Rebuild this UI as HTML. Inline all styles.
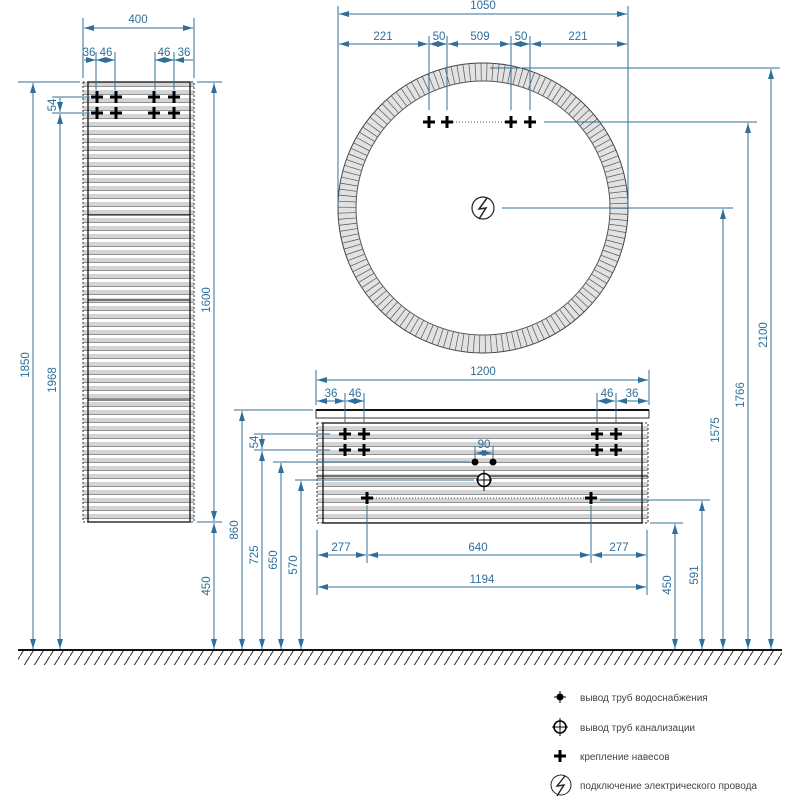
<!DOCTYPE html>
<html><head><meta charset="utf-8"><style>
html,body{margin:0;padding:0;background:#fff}
svg{display:block}
.d{stroke:#2f6f9a;stroke-width:1;fill:none}
.t{fill:#2f6f9a;font-family:"Liberation Sans",sans-serif;font-size:11.5px}
.l{fill:#444;font-family:"Liberation Sans","Noto Sans CJK SC",sans-serif;font-size:10px}
</style></head><body>
<svg width="800" height="800" viewBox="0 0 800 800" xmlns="http://www.w3.org/2000/svg">
<defs>
<marker id="a" viewBox="0 0 10 6" refX="10" refY="3" markerWidth="10" markerHeight="6" orient="auto-start-reverse" markerUnits="userSpaceOnUse"><path d="M0,0L10,3L0,6z" fill="#2f6f9a"/></marker>
<pattern id="st" width="8" height="8" patternUnits="userSpaceOnUse"><rect width="8" height="8" fill="#fff"/><rect y="2" width="8" height="4" fill="#d4d4d4"/><rect y="6" width="8" height="0.8" fill="#777"/></pattern>
<pattern id="hat" width="10" height="16" patternUnits="userSpaceOnUse"><path d="M10,0L0,16" stroke="#333" stroke-width="1"/></pattern>
<g id="x"><path d="M-6,0H6M0,-6V6" stroke="#000" stroke-width="3"/></g>
</defs>

<!-- floor -->
<line x1="18" y1="650" x2="782" y2="650" stroke="#111" stroke-width="2"/>
<rect x="18" y="651" width="764" height="14" fill="url(#hat)"/>

<!-- tall cabinet -->
<rect x="83" y="82" width="111" height="440" fill="url(#st)"/>
<rect x="83" y="82" width="111" height="440" fill="none" stroke="#333" stroke-dasharray="2,2"/>
<rect x="88" y="82" width="102" height="440" fill="none" stroke="#111" stroke-width="1.3"/>
<line x1="88" y1="215" x2="190" y2="215" stroke="#111"/><line x1="88" y1="300" x2="190" y2="300" stroke="#111"/><line x1="88" y1="400" x2="190" y2="400" stroke="#111"/>
<use href="#x" x="97" y="97"/><use href="#x" x="116" y="97"/><use href="#x" x="154" y="97"/><use href="#x" x="174" y="97"/>
<use href="#x" x="97" y="113"/><use href="#x" x="116" y="113"/><use href="#x" x="154" y="113"/><use href="#x" x="174" y="113"/>
<g class="d">
<line x1="83" y1="18" x2="83" y2="78"/><line x1="194" y1="18" x2="194" y2="78"/>
<line x1="84" y1="28" x2="193" y2="28" marker-start="url(#a)" marker-end="url(#a)"/>
<line x1="96" y1="52" x2="96" y2="90"/><line x1="115" y1="52" x2="115" y2="90"/><line x1="155" y1="52" x2="155" y2="90"/><line x1="174" y1="52" x2="174" y2="90"/>
<line x1="84" y1="60" x2="96" y2="60" marker-end="url(#a)"/><line x1="96" y1="60" x2="115" y2="60" marker-start="url(#a)" marker-end="url(#a)"/>
<line x1="155" y1="60" x2="174" y2="60" marker-start="url(#a)" marker-end="url(#a)"/><line x1="174" y1="60" x2="193" y2="60" marker-start="url(#a)"/>
<line x1="18" y1="82" x2="80" y2="82"/><line x1="197" y1="82" x2="222" y2="82"/>
<line x1="33" y1="83" x2="33" y2="649" marker-start="url(#a)" marker-end="url(#a)"/>
<line x1="52" y1="97" x2="90" y2="97"/><line x1="52" y1="113" x2="90" y2="113"/>
<line x1="60" y1="98" x2="60" y2="112" marker-end="url(#a)"/>
<line x1="60" y1="114" x2="60" y2="649" marker-start="url(#a)" marker-end="url(#a)"/>
<line x1="197" y1="522" x2="222" y2="522"/>
<line x1="214" y1="83" x2="214" y2="521" marker-start="url(#a)" marker-end="url(#a)"/>
<line x1="214" y1="523" x2="214" y2="649" marker-start="url(#a)" marker-end="url(#a)"/>
</g>
<text class="t" x="138" y="23" text-anchor="middle">400</text>
<text class="t" x="89" y="56" text-anchor="middle">36</text><text class="t" x="106" y="56" text-anchor="middle">46</text>
<text class="t" x="164" y="56" text-anchor="middle">46</text><text class="t" x="184" y="56" text-anchor="middle">36</text>
<text class="t" transform="translate(29,365) rotate(-90)" text-anchor="middle">1850</text>
<text class="t" transform="translate(56,380) rotate(-90)" text-anchor="middle">1968</text>
<text class="t" transform="translate(56,105) rotate(-90)" text-anchor="middle">54</text>
<text class="t" transform="translate(210,300) rotate(-90)" text-anchor="middle">1600</text>
<text class="t" transform="translate(210,586) rotate(-90)" text-anchor="middle">450</text>

<!-- mirror -->
<circle cx="483" cy="208" r="136" fill="none" stroke="#e2e2e2" stroke-width="18"/>
<circle cx="483" cy="208" r="136" fill="none" stroke="#555" stroke-width="17" stroke-dasharray="0.7,5"/>
<circle cx="483" cy="208" r="145" fill="none" stroke="#444" stroke-width="1"/>
<circle cx="483" cy="208" r="127" fill="none" stroke="#555" stroke-width="1"/>
<line x1="447" y1="122" x2="511" y2="122" stroke="#555" stroke-dasharray="1,2"/>
<use href="#x" x="429" y="122"/><use href="#x" x="447" y="122"/><use href="#x" x="511" y="122"/><use href="#x" x="530" y="122"/>
<circle cx="483" cy="208" r="11" fill="#fff" stroke="#222" stroke-width="1.2"/>
<path d="M487,198L479,209L486,208L479,219" stroke="#222" stroke-width="1.5" fill="none"/>
<g class="d">
<line x1="338" y1="6" x2="338" y2="205"/><line x1="628" y1="6" x2="628" y2="205"/>
<line x1="339" y1="14" x2="627" y2="14" marker-start="url(#a)" marker-end="url(#a)"/>
<line x1="429" y1="36" x2="429" y2="110"/><line x1="447" y1="36" x2="447" y2="110"/><line x1="511" y1="36" x2="511" y2="110"/><line x1="530" y1="36" x2="530" y2="110"/>
<line x1="339" y1="44" x2="428" y2="44" marker-start="url(#a)" marker-end="url(#a)"/>
<line x1="429" y1="44" x2="447" y2="44" marker-start="url(#a)" marker-end="url(#a)"/>
<line x1="448" y1="44" x2="510" y2="44" marker-start="url(#a)" marker-end="url(#a)"/>
<line x1="511" y1="44" x2="530" y2="44" marker-start="url(#a)" marker-end="url(#a)"/>
<line x1="531" y1="44" x2="627" y2="44" marker-start="url(#a)" marker-end="url(#a)"/>
<line x1="490" y1="68" x2="780" y2="68"/><line x1="544" y1="122" x2="757" y2="122"/><line x1="502" y1="208" x2="733" y2="208"/>
<line x1="771" y1="69" x2="771" y2="649" marker-start="url(#a)" marker-end="url(#a)"/>
<line x1="748" y1="123" x2="748" y2="649" marker-start="url(#a)" marker-end="url(#a)"/>
<line x1="723" y1="209" x2="723" y2="649" marker-start="url(#a)" marker-end="url(#a)"/>
</g>
<text class="t" x="483" y="9" text-anchor="middle">1050</text>
<text class="t" x="383" y="40" text-anchor="middle">221</text><text class="t" x="439" y="40" text-anchor="middle">50</text>
<text class="t" x="480" y="40" text-anchor="middle">509</text><text class="t" x="521" y="40" text-anchor="middle">50</text>
<text class="t" x="578" y="40" text-anchor="middle">221</text>
<text class="t" transform="translate(767,335) rotate(-90)" text-anchor="middle">2100</text>
<text class="t" transform="translate(744,395) rotate(-90)" text-anchor="middle">1766</text>
<text class="t" transform="translate(719,430) rotate(-90)" text-anchor="middle">1575</text>

<!-- vanity -->
<rect x="316" y="410" width="333" height="8" fill="#fff" stroke="#333" stroke-width="1"/>
<line x1="316" y1="410" x2="649" y2="410" stroke="#111" stroke-width="2"/>
<rect x="317" y="423" width="331" height="100" fill="url(#st)"/>
<rect x="317" y="423" width="331" height="100" fill="none" stroke="#333" stroke-dasharray="2,2"/>
<rect x="323" y="423" width="319" height="100" fill="none" stroke="#111" stroke-width="1.3"/>
<line x1="317" y1="476" x2="648" y2="476" stroke="#111"/>
<use href="#x" x="345" y="434"/><use href="#x" x="364" y="434"/><use href="#x" x="597" y="434"/><use href="#x" x="616" y="434"/>
<use href="#x" x="345" y="450"/><use href="#x" x="364" y="450"/><use href="#x" x="597" y="450"/><use href="#x" x="616" y="450"/>
<circle cx="475" cy="462" r="3.5" fill="#000"/><circle cx="493" cy="462" r="3.5" fill="#000"/>
<circle cx="484" cy="480" r="6.5" fill="#fff" stroke="#000" stroke-width="1.6"/>
<path d="M476,480H492M484,470V491" stroke="#000"/>
<line x1="370" y1="498" x2="588" y2="498" stroke="#555" stroke-dasharray="1,2"/>
<use href="#x" x="367" y="498"/><use href="#x" x="591" y="498"/>
<g class="d">
<line x1="316" y1="370" x2="316" y2="405"/><line x1="649" y1="370" x2="649" y2="405"/>
<line x1="317" y1="380" x2="648" y2="380" marker-start="url(#a)" marker-end="url(#a)"/>
<line x1="345" y1="393" x2="345" y2="422"/><line x1="364" y1="393" x2="364" y2="422"/><line x1="597" y1="393" x2="597" y2="422"/><line x1="616" y1="393" x2="616" y2="422"/>
<line x1="317" y1="401" x2="345" y2="401" marker-start="url(#a)" marker-end="url(#a)"/>
<line x1="346" y1="401" x2="364" y2="401" marker-start="url(#a)" marker-end="url(#a)"/>
<line x1="597" y1="401" x2="615" y2="401" marker-start="url(#a)" marker-end="url(#a)"/>
<line x1="617" y1="401" x2="648" y2="401" marker-start="url(#a)" marker-end="url(#a)"/>
<line x1="475" y1="446" x2="475" y2="458"/><line x1="493" y1="446" x2="493" y2="458"/>
<line x1="476" y1="453" x2="492" y2="453" marker-start="url(#a)" marker-end="url(#a)"/>
<line x1="317" y1="530" x2="317" y2="595"/><line x1="647" y1="530" x2="647" y2="595"/>
<line x1="367" y1="505" x2="367" y2="563"/><line x1="591" y1="505" x2="591" y2="563"/>
<line x1="318" y1="555" x2="366" y2="555" marker-start="url(#a)" marker-end="url(#a)"/>
<line x1="368" y1="555" x2="590" y2="555" marker-start="url(#a)" marker-end="url(#a)"/>
<line x1="592" y1="555" x2="646" y2="555" marker-start="url(#a)" marker-end="url(#a)"/>
<line x1="318" y1="587" x2="646" y2="587" marker-start="url(#a)" marker-end="url(#a)"/>
<line x1="234" y1="410" x2="313" y2="410"/>
<line x1="254" y1="434" x2="330" y2="434"/><line x1="254" y1="450" x2="330" y2="450"/>
<line x1="273" y1="462" x2="470" y2="462"/><line x1="295" y1="480" x2="474" y2="480"/>
<line x1="242" y1="411" x2="242" y2="649" marker-start="url(#a)" marker-end="url(#a)"/>
<line x1="262" y1="435" x2="262" y2="449" marker-end="url(#a)"/>
<line x1="262" y1="451" x2="262" y2="649" marker-start="url(#a)" marker-end="url(#a)"/>
<line x1="281" y1="463" x2="281" y2="649" marker-start="url(#a)" marker-end="url(#a)"/>
<line x1="301" y1="481" x2="301" y2="649" marker-start="url(#a)" marker-end="url(#a)"/>
<line x1="650" y1="523" x2="683" y2="523"/><line x1="600" y1="500" x2="710" y2="500"/>
<line x1="675" y1="524" x2="675" y2="649" marker-start="url(#a)" marker-end="url(#a)"/>
<line x1="702" y1="501" x2="702" y2="649" marker-start="url(#a)" marker-end="url(#a)"/>
</g>
<text class="t" x="483" y="375" text-anchor="middle">1200</text>
<text class="t" x="331" y="397" text-anchor="middle">36</text><text class="t" x="355" y="397" text-anchor="middle">46</text>
<text class="t" x="607" y="397" text-anchor="middle">46</text><text class="t" x="632" y="397" text-anchor="middle">36</text>
<text class="t" x="484" y="448" text-anchor="middle">90</text>
<text class="t" x="341" y="551" text-anchor="middle">277</text><text class="t" x="478" y="551" text-anchor="middle">640</text><text class="t" x="619" y="551" text-anchor="middle">277</text>
<text class="t" x="482" y="583" text-anchor="middle">1194</text>
<text class="t" transform="translate(238,530) rotate(-90)" text-anchor="middle">860</text>
<text class="t" transform="translate(258,442) rotate(-90)" text-anchor="middle">54</text>
<text class="t" transform="translate(258,555) rotate(-90)" text-anchor="middle">725</text>
<text class="t" transform="translate(277,560) rotate(-90)" text-anchor="middle">650</text>
<text class="t" transform="translate(297,565) rotate(-90)" text-anchor="middle">570</text>
<text class="t" transform="translate(671,585) rotate(-90)" text-anchor="middle">450</text>
<text class="t" transform="translate(698,575) rotate(-90)" text-anchor="middle">591</text>

<!-- legend -->
<circle cx="560" cy="697" r="3.5" fill="#000"/><path d="M554,697H566M560,691V703" stroke="#000"/>
<circle cx="560" cy="727" r="6" fill="none" stroke="#000" stroke-width="1.6"/><path d="M552,727H568M560,718V736" stroke="#000"/>
<use href="#x" x="560" y="756"/>
<circle cx="561" cy="785" r="10" fill="#fff" stroke="#222"/><path d="M565,776L557,786L564,785L557,796" stroke="#222" stroke-width="1.4" fill="none"/>
<text class="l" x="580" y="701">вывод труб водоснабжения</text>
<text class="l" x="580" y="731">вывод труб канализации</text>
<text class="l" x="580" y="760">крепление навесов</text>
<text class="l" x="580" y="789">подключение электрического провода</text>
</svg>
</body></html>
